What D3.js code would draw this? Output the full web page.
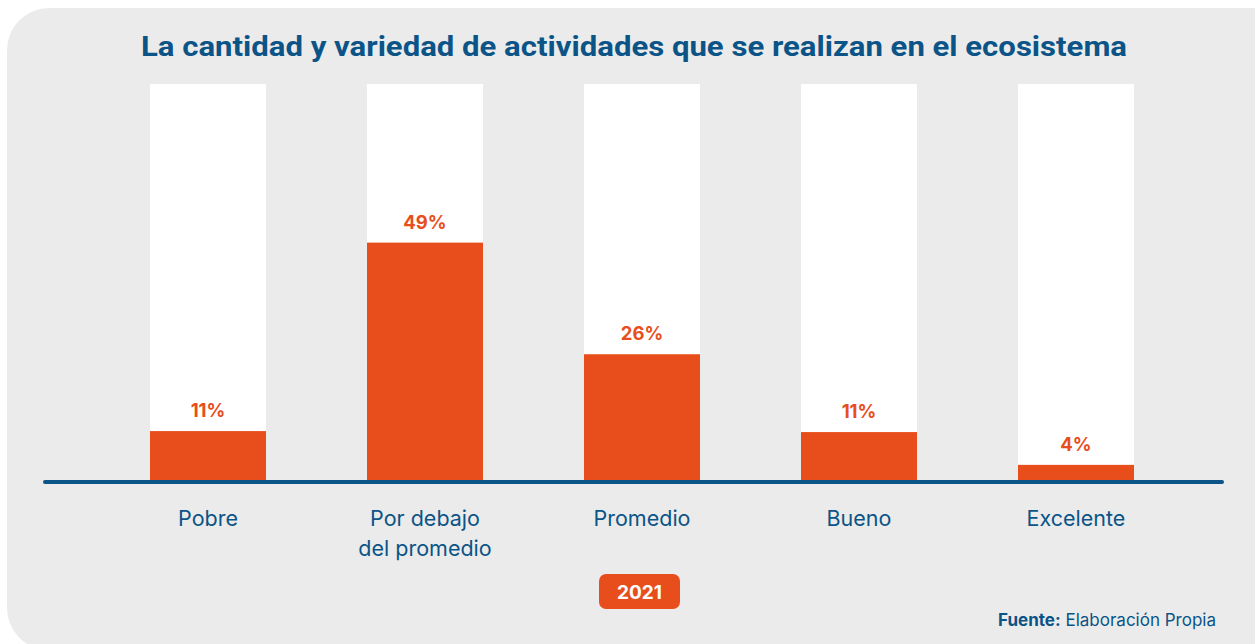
<!DOCTYPE html>
<html>
<head>
<meta charset="utf-8">
<script src="https://cdn.jsdelivr.net/npm/d3@7"></script>
<style>
  html, body { margin: 0; padding: 0; background: #ffffff; }
  svg { display: block; }
</style>
</head>
<body>
<svg id="chart" width="1255" height="644"></svg>
<script>
const categories = [["Pobre"], ["Por debajo", "del promedio"], ["Promedio"], ["Bueno"], ["Excelente"]];
const categoryKeys = ["Pobre", "Por debajo del promedio", "Promedio", "Bueno", "Excelente"];
const values = [10.4, 48.9, 26.1, 10.2, 3.5];
const valueLabels = ["11%", "49%", "26%", "11%", "4%"];
const yMax = 81.3;
const title = "La cantidad y variedad de actividades que se realizan en el ecosistema";
const yearLabel = "2021";

const W = 1255, H = 644;
const orange = "#E84E1C", blue = "#0B5487", bg = "#EBEBEB";
const font = "Roboto, 'Noto Sans', sans-serif";
const font2 = "Inter, Roboto, sans-serif";

const svg = d3.select("#chart");

// panel
svg.append("rect").attr("x", 7).attr("y", 8).attr("width", 1290).attr("height", 642)
  .attr("rx", 42).attr("fill", bg);

// title
svg.append("text").attr("x", 634).attr("y", 56).attr("text-anchor", "middle")
  .attr("font-family", font).attr("font-weight", 700).attr("font-size", 27)
  .attr("fill", blue).attr("textLength", 986).attr("lengthAdjust", "spacingAndGlyphs")
  .text(title);

const baseY = 482;
const x = d3.scaleBand().domain(categoryKeys)
  .range([150, 150 + 217 * 4 + 116]).paddingInner(101 / 217).paddingOuter(0);
const y = d3.scaleLinear().domain([0, yMax]).range([baseY, 84]);

const g = svg.append("g");
// white background bars
g.selectAll("rect.bgbar").data(categoryKeys).join("rect").attr("class", "bgbar")
  .attr("x", d => x(d)).attr("width", x.bandwidth())
  .attr("y", y(yMax)).attr("height", baseY - y(yMax)).attr("fill", "#ffffff");

// value bars
g.selectAll("rect.bar").data(values).join("rect").attr("class", "bar")
  .attr("x", (d, i) => x(categoryKeys[i])).attr("width", x.bandwidth())
  .attr("y", d => y(d)).attr("height", d => baseY - y(d)).attr("fill", orange);

// value labels
g.selectAll("text.val").data(values).join("text").attr("class", "val")
  .attr("x", (d, i) => x(categoryKeys[i]) + x.bandwidth() / 2)
  .attr("y", d => y(d) - 14)
  .attr("text-anchor", "middle").attr("font-family", font2).attr("font-weight", 700)
  .attr("font-size", 18.5).attr("fill", orange)
  .text((d, i) => valueLabels[i]);

// baseline
svg.append("line").attr("x1", 45).attr("x2", 1222).attr("y1", baseY).attr("y2", baseY)
  .attr("stroke", blue).attr("stroke-width", 4).attr("stroke-linecap", "round");

// category labels
const cl = svg.selectAll("text.cat").data(categories).join("text").attr("class", "cat")
  .attr("text-anchor", "middle").attr("font-family", font2).attr("font-size", 21.5)
  .attr("fill", blue);
cl.each(function(lines, i) {
  const t = d3.select(this);
  lines.forEach((ln, j) => {
    t.append("tspan").attr("x", x(categoryKeys[i]) + x.bandwidth() / 2)
      .attr("y", 526 + j * 30).text(ln);
  });
});

// year badge
svg.append("rect").attr("x", 599).attr("y", 574).attr("width", 81).attr("height", 35)
  .attr("rx", 7).attr("fill", orange);
svg.append("text").attr("x", 639.5).attr("y", 598.5).attr("text-anchor", "middle")
  .attr("font-family", font2).attr("font-weight", 700).attr("font-size", 19)
  .attr("fill", "#ffffff").text(yearLabel);

// source
const src = svg.append("text").attr("x", 1216).attr("y", 626).attr("text-anchor", "end")
  .attr("font-family", font2).attr("font-size", 17).attr("fill", blue);
src.append("tspan").attr("font-weight", 700).text("Fuente:");
src.append("tspan").text(" Elaboración Propia");
</script>
</body>
</html>
